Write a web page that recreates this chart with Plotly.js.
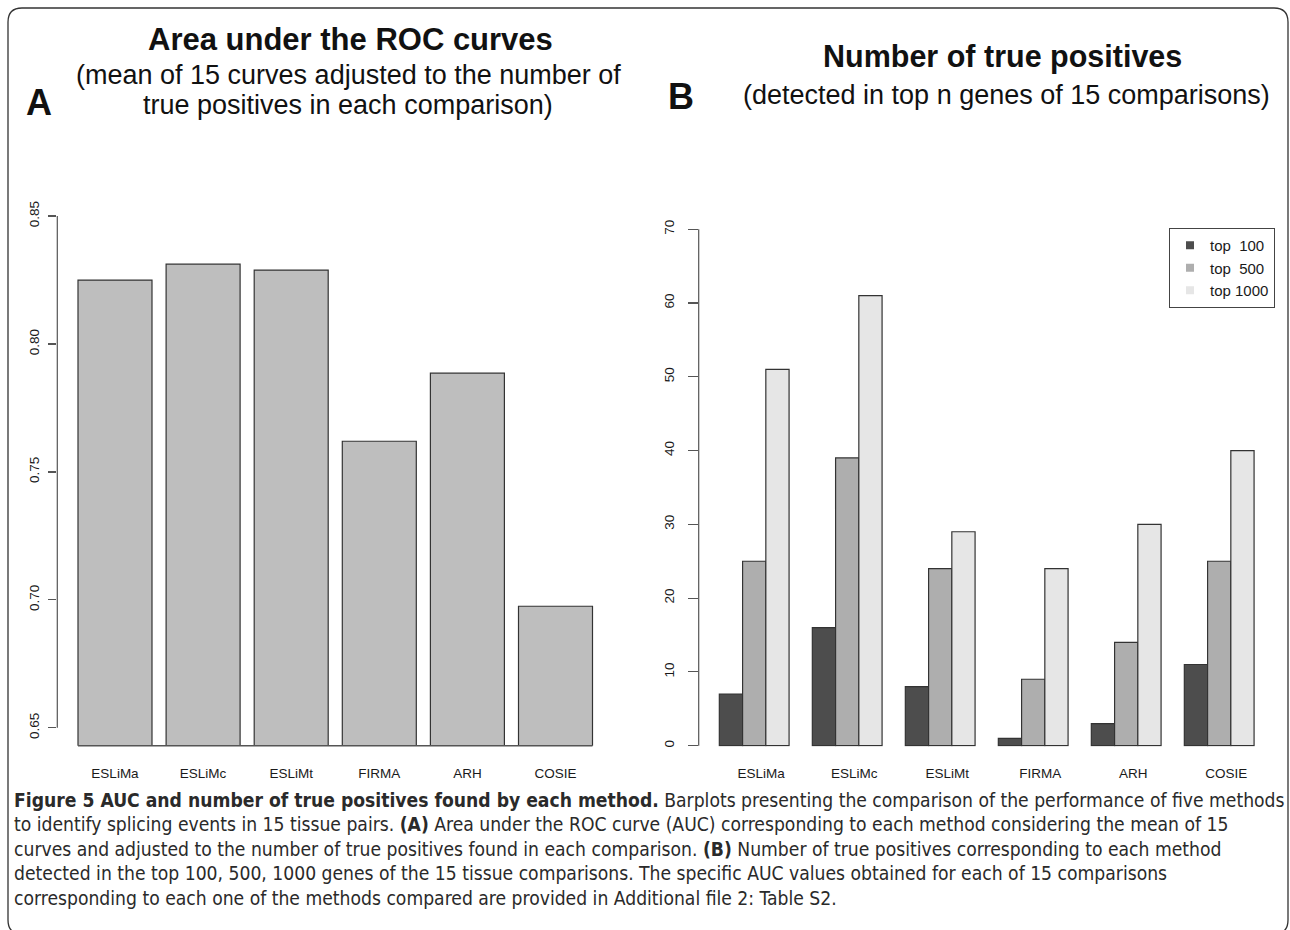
<!DOCTYPE html>
<html>
<head>
<meta charset="utf-8">
<script src="https://cdn.plot.ly/plotly-3.0.1.min.js"></script>
<style>
html,body{margin:0;padding:0;background:#fff;}
#chart{width:1290px;height:930px;}
</style>
</head>
<body>
<div id="chart"></div>
<script>
// ---- data ----
const methods = ['ESLiMa', 'ESLiMc', 'ESLiMt', 'FIRMA', 'ARH', 'COSIE'];
const aucValues = [0.825, 0.8312, 0.8289, 0.762, 0.7886, 0.6975];
const aucTicks = [0.65, 0.70, 0.75, 0.80, 0.85];
const seriesNames = ['top\u00a0\u00a0100', 'top\u00a0\u00a0500', 'top 1000'];
const top100 = [7, 16, 8, 1, 3, 11];
const top500 = [25, 39, 24, 9, 14, 25];
const top1000 = [51, 61, 29, 24, 30, 40];
const tpTicks = [0, 10, 20, 30, 40, 50, 60, 70];
const seriesColors = ['#4D4D4D', '#AEAEAE', '#E6E6E6'];

// ---- helpers (page pixel -> paper fraction) ----
const W = 1290, H = 930;
const px = x => x / W;
const py = y => 1 - y / H;

const FONT = '"Liberation Sans", Arial, sans-serif';
const TXT = '#1a1a1a';
const EDGE = '#333';

const traces = [];
traces.push({
  type: 'bar', x: methods, y: aucValues, xaxis: 'x', yaxis: 'y',
  width: 0.84, marker: {color: '#BEBEBE', line: {color: EDGE, width: 1.2}},
  showlegend: false, hoverinfo: 'x+y'
});
const rightSeries = [top100, top500, top1000];
const offsets = [-0.375, -0.125, 0.125];
rightSeries.forEach((vals, i) => {
  traces.push({
    type: 'bar', x: methods, y: vals, xaxis: 'x2', yaxis: 'y2',
    width: 0.25, offset: offsets[i], name: seriesNames[i],
    marker: {color: seriesColors[i], line: {color: EDGE, width: 1.2}},
    showlegend: false
  });
  // legend swatch (R-style filled square)
  traces.push({
    type: 'scatter', mode: 'markers', x: [null], y: [null], xaxis: 'x2', yaxis: 'y2',
    name: seriesNames[i], marker: {symbol: 'square', size: 8, color: seriesColors[i]},
    showlegend: true, hoverinfo: 'skip'
  });
});

const tickFont = {family: FONT, size: 13.5, color: TXT};

// panel geometry (pixels)
const L = {x0: 57.3, x1: 614, y0: 195.5, y1: 745.7};
const R = {x0: 698.7, x1: 1275.4, y0: 208.6, y1: 746.4};

function shapeLine(x0, y0, x1, y1, xref, yref, w) {
  return {type: 'line', xref, yref, x0, y0, x1, y1, line: {color: '#555', width: w || 1.2}};
}

const shapes = [
  // R-style y axis lines spanning first to last tick
  shapeLine(0, aucTicks[0], 0, aucTicks[aucTicks.length - 1], 'x domain', 'y'),
  shapeLine(0, tpTicks[0], 0, tpTicks[tpTicks.length - 1], 'x2 domain', 'y2'),
  // baseline under left bars
  shapeLine(-0.42, 0, methods.length - 1 + 0.42, 0, 'x', 'y domain', 1.6)
];
// rounded frame
(function () {
  const l = 8, t = 8, r = 1288, b = 934, rad = 14;
  const p = `M ${px(l + rad)} ${py(t)} L ${px(r - rad)} ${py(t)} Q ${px(r)} ${py(t)} ${px(r)} ${py(t + rad)} ` +
    `L ${px(r)} ${py(b - rad)} Q ${px(r)} ${py(b)} ${px(r - rad)} ${py(b)} L ${px(l + rad)} ${py(b)} ` +
    `Q ${px(l)} ${py(b)} ${px(l)} ${py(b - rad)} L ${px(l)} ${py(t + rad)} Q ${px(l)} ${py(t)} ${px(l + rad)} ${py(t)} Z`;
  shapes.push({type: 'path', xref: 'paper', yref: 'paper', path: p, line: {color: '#333', width: 1.3}, fillcolor: 'rgba(0,0,0,0)'});
})();

function ann(text, x, y, size, opts) {
  return Object.assign({
    xref: 'paper', yref: 'paper', x: px(x), y: py(y), text, showarrow: false,
    xanchor: 'center', yanchor: 'middle', font: {family: FONT, size, color: '#111'}
  }, opts || {});
}

const capFont = '"DejaVu Sans Condensed", "Liberation Sans Narrow", sans-serif';
const capLines = [
  '<b>Figure 5 AUC and number of true positives found by each method.</b> Barplots presenting the comparison of the performance of five methods',
  'to identify splicing events in 15 tissue pairs. <b>(A)</b> Area under the ROC curve (AUC) corresponding to each method considering the mean of 15',
  'curves and adjusted to the number of true positives found in each comparison. <b>(B)</b> Number of true positives corresponding to each method',
  'detected in the top 100, 500, 1000 genes of the 15 tissue comparisons. The specific AUC values obtained for each of 15 comparisons',
  'corresponding to each one of the methods compared are provided in Additional file 2: Table S2.'
];

const annotations = [
  ann('<b>Area under the ROC curves</b>', 350, 40, 31),
  ann('(mean of 15 curves adjusted to the number of', 348, 75, 27),
  ann('true positives in each comparison)', 348, 105, 27),
  ann('<b>A</b>', 39, 103, 36),
  ann('<b>Number of true positives</b>', 1002, 57, 30.5),
  ann('(detected in top n genes of 15 comparisons)', 1006, 95, 27),
  ann('<b>B</b>', 681, 97, 36)
];
capLines.forEach((t, i) => {
  annotations.push(ann(t, 12, 800 + i * 24.6, 19.15, {xanchor: 'left', align: 'left', font: {family: capFont, size: 19.15, color: '#2a2a2a'}}));
});

const layout = {
  width: W, height: H,
  margin: {l: 0, r: 0, t: 0, b: 0},
  paper_bgcolor: '#fff', plot_bgcolor: 'rgba(0,0,0,0)',
  showlegend: true,
  legend: {
    x: px(1275), y: py(228), xanchor: 'right', yanchor: 'top',
    bgcolor: '#fff', bordercolor: '#444', borderwidth: 1,
    font: {family: FONT, size: 15, color: TXT},
    itemwidth: 30, tracegroupgap: 0
  },
  xaxis: {
    domain: [px(L.x0), px(L.x1)], anchor: 'y', type: 'category',
    range: [(L.x0 - 115) / 88.1, (L.x1 - 115) / 88.1],
    showline: false, showgrid: false, zeroline: false, ticks: '',
    tickfont: tickFont, ticklabelstandoff: 18
  },
  yaxis: {
    domain: [py(L.y1), py(L.y0)], anchor: 'x',
    range: [0.643, 0.643 + (L.y1 - L.y0) / 2558.5],
    tickvals: aucTicks, tickformat: '.2f', tickangle: -90,
    ticks: 'outside', ticklen: 8, tickcolor: '#555', tickwidth: 1.2,
    showline: false, showgrid: false, zeroline: false,
    tickfont: tickFont, ticklabelstandoff: 4
  },
  xaxis2: {
    domain: [px(R.x0), px(R.x1)], anchor: 'y2', type: 'category',
    range: [(R.x0 - 754.2) / 93, (R.x1 - 754.2) / 93],
    showline: false, showgrid: false, zeroline: false, ticks: '',
    tickfont: tickFont, ticklabelstandoff: 17, ticklabelshift: 7
  },
  yaxis2: {
    domain: [py(R.y1), py(R.y0)], anchor: 'x2',
    range: [-0.1, -0.1 + (R.y1 - R.y0) / 7.377],
    tickvals: tpTicks, tickangle: -90,
    ticks: 'outside', ticklen: 10, tickcolor: '#555', tickwidth: 1.2,
    showline: false, showgrid: false, zeroline: false,
    tickfont: tickFont, ticklabelstandoff: 8
  },
  shapes, annotations
};

Plotly.newPlot('chart', traces, layout, {displayModeBar: false, staticPlot: true});
</script>
</body>
</html>
